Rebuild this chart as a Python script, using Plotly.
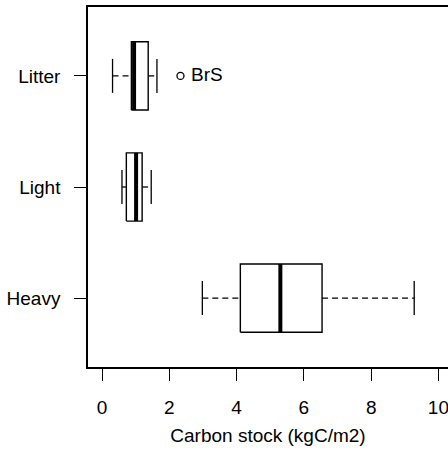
import plotly.graph_objects as go

categories = ["Heavy", "Light", "Litter"]
positions = [1, 2, 3]
lower = [2.98, 0.59, 0.31]
q1 = [4.11, 0.72, 0.87]
median = [5.30, 1.01, 0.95]
q3 = [6.54, 1.19, 1.37]
upper = [9.28, 1.46, 1.63]
outlier_x = [2.33]
outlier_pos = [3]
outlier_label = ["BrS"]
x_ticks = [0, 2, 4, 6, 8, 10]

HALF = 0.307   # half box height (category units)
STAPLE = 0.153
FONT = "Liberation Sans, Arial, sans-serif"
FS = 19

fig = go.Figure()
for p, lo, a, m, b, hi in zip(positions, lower, q1, median, q3, upper):
    fig.add_trace(go.Scatter(x=[lo, a, None, b, hi], y=[p, p, None, p, p], mode="lines",
                             line=dict(color="black", width=1.3, dash="6px,4px"),
                             hoverinfo="skip", showlegend=False))
    fig.add_trace(go.Scatter(x=[lo, lo, None, hi, hi],
                             y=[p - STAPLE, p + STAPLE, None, p - STAPLE, p + STAPLE],
                             mode="lines", line=dict(color="black", width=1.3),
                             hoverinfo="skip", showlegend=False))
    fig.add_trace(go.Scatter(x=[a, b, b, a, a], y=[p - HALF, p - HALF, p + HALF, p + HALF, p - HALF],
                             mode="lines", line=dict(color="black", width=1.4),
                             hoverinfo="skip", showlegend=False))
    fig.add_trace(go.Scatter(x=[m, m], y=[p - HALF, p + HALF], mode="lines",
                             line=dict(color="black", width=4),
                             hoverinfo="skip", showlegend=False))

fig.add_trace(go.Scatter(x=outlier_x, y=outlier_pos, mode="markers+text",
                         marker=dict(symbol="circle-open", size=7, color="black",
                                     line=dict(width=1.3, color="black")),
                         text=[" " + t for t in outlier_label], textposition="middle right",
                         textfont=dict(family=FONT, size=FS, color="black"),
                         hoverinfo="skip", showlegend=False))

fig.update_layout(
    width=448, height=450,
    margin=dict(l=87.5, r=0, t=6.5, b=83),
    paper_bgcolor="white", plot_bgcolor="white",
    font=dict(family=FONT, size=FS, color="black"),
    xaxis=dict(range=[-0.42, 10.285], tickvals=x_ticks, ticktext=[str(v) for v in x_ticks],
               showgrid=False, zeroline=False, showline=True, mirror=True,
               linecolor="black", linewidth=1.5, ticks="outside", ticklen=12,
               tickwidth=1.3, tickcolor="black", ticklabelstandoff=10,
               ticklabeloverflow="allow",
               title=dict(text="Carbon stock (kgC/m2)", standoff=12,
                          font=dict(family=FONT, size=FS)),
               automargin=False),
    yaxis=dict(range=[0.38, 3.62], tickvals=positions, ticktext=categories,
               showgrid=False, zeroline=False, showline=True, mirror=False,
               linecolor="black", linewidth=1.5, ticks="outside", ticklen=12,
               tickwidth=1.3, tickcolor="black", ticklabelstandoff=10,
               automargin=False),
)
fig.write_html("out.html")
